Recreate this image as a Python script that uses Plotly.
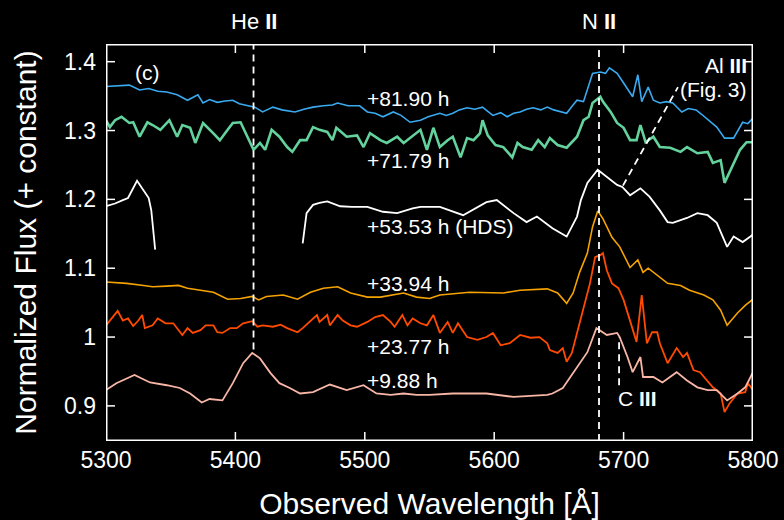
import plotly.graph_objects as go

# ---------------- data ----------------
blue_wl = [5300, 5318, 5326, 5333, 5340, 5347, 5355, 5363, 5371, 5375, 5380, 5386, 5392, 5398, 5403, 5409,
           5415, 5421, 5429, 5436, 5446, 5453, 5460, 5468, 5475, 5479, 5487, 5496, 5502, 5508, 5514, 5522,
           5528, 5535, 5543, 5549, 5553, 5558, 5563, 5568, 5573, 5579, 5585, 5591, 5595, 5599, 5605, 5610,
           5615, 5620, 5625, 5630, 5636, 5641, 5646, 5651, 5656, 5660, 5664, 5669, 5674, 5676, 5682, 5686,
           5689, 5695, 5700, 5704, 5707, 5711, 5714, 5719, 5723, 5728, 5733, 5738, 5745, 5750, 5756, 5760,
           5764, 5768, 5772, 5778, 5785, 5792, 5796, 5800]
blue_fl = [1.364, 1.366, 1.359, 1.361, 1.357, 1.356, 1.352, 1.344, 1.352, 1.340, 1.345, 1.341, 1.343, 1.344, 1.339, 1.337,
           1.334, 1.327, 1.334, 1.330, 1.327, 1.331, 1.334, 1.336, 1.337, 1.340, 1.336, 1.336, 1.327, 1.325, 1.320, 1.327,
           1.322, 1.312, 1.315, 1.320, 1.322, 1.325, 1.322, 1.325, 1.330, 1.333, 1.331, 1.334, 1.328, 1.322, 1.326, 1.320,
           1.325, 1.327, 1.331, 1.333, 1.330, 1.334, 1.330, 1.327, 1.325, 1.335, 1.344, 1.342, 1.369, 1.383, 1.385, 1.383,
           1.391, 1.383, 1.369, 1.358, 1.349, 1.381, 1.342, 1.363, 1.344, 1.340, 1.342, 1.340, 1.327, 1.332, 1.330, 1.324,
           1.318, 1.312, 1.305, 1.289, 1.289, 1.312, 1.310, 1.318]

green_wl = [5300, 5303, 5307, 5312, 5318, 5321, 5326, 5332, 5336, 5342, 5349, 5355, 5359, 5365, 5369, 5375,
            5383, 5388, 5394, 5398, 5404, 5409, 5414, 5419, 5423, 5428, 5434, 5440, 5444, 5450, 5455, 5460,
            5465, 5471, 5475, 5478, 5486, 5494, 5499, 5504, 5512, 5517, 5525, 5530, 5537, 5543, 5548, 5553,
            5558, 5564, 5568, 5574, 5579, 5584, 5589, 5591, 5595, 5601, 5607, 5614, 5618, 5622, 5629, 5634,
            5639, 5643, 5649, 5656, 5664, 5669, 5673, 5676, 5682, 5684, 5690, 5695, 5700, 5705, 5710, 5713,
            5717, 5723, 5728, 5736, 5744, 5749, 5757, 5765, 5769, 5775, 5778, 5784, 5790, 5795, 5800]
green_fl = [1.315, 1.305, 1.315, 1.320, 1.311, 1.312, 1.291, 1.312, 1.308, 1.301, 1.315, 1.291, 1.308, 1.304, 1.282, 1.311,
            1.296, 1.286, 1.301, 1.311, 1.312, 1.291, 1.272, 1.282, 1.272, 1.301, 1.291, 1.276, 1.269, 1.286, 1.286, 1.305,
            1.301, 1.298, 1.286, 1.304, 1.291, 1.293, 1.276, 1.296, 1.286, 1.282, 1.291, 1.282, 1.293, 1.301, 1.272, 1.304,
            1.276, 1.286, 1.291, 1.261, 1.289, 1.286, 1.296, 1.315, 1.293, 1.279, 1.276, 1.261, 1.282, 1.276, 1.272, 1.286,
            1.276, 1.289, 1.279, 1.275, 1.291, 1.315, 1.320, 1.340, 1.349, 1.342, 1.327, 1.311, 1.304, 1.286, 1.286, 1.308,
            1.283, 1.291, 1.276, 1.275, 1.269, 1.276, 1.267, 1.269, 1.253, 1.257, 1.224, 1.247, 1.272, 1.283, 1.283]

white_wl = [5300, 5307, 5313, 5317, 5324, 5328, 5333, 5335, 5338, 5345,
            5452, 5455, 5460, 5465, 5471, 5481, 5490, 5502, 5514, 5525, 5537, 5543, 5558, 5576, 5594, 5602,
            5615, 5625, 5633, 5645, 5656, 5664, 5667, 5672, 5680, 5687, 5695, 5699, 5705, 5713, 5720, 5728,
            5734, 5738, 5749, 5757, 5765, 5772, 5780, 5785, 5792, 5798, 5800]
white_fl = [1.190, 1.194, 1.199, 1.202, 1.227, 1.216, 1.202, 1.184, 1.127, None,
            1.136, 1.180, 1.192, 1.195, 1.197, 1.190, 1.189, 1.189, 1.182, 1.180, 1.187, 1.189, 1.189, 1.177, 1.196, 1.199,
            1.180, 1.167, 1.175, 1.158, 1.146, 1.175, 1.199, 1.224, 1.243, 1.233, 1.221, 1.218, 1.206, 1.216, 1.204, 1.184,
            1.167, 1.166, 1.173, 1.180, 1.177, 1.166, 1.131, 1.146, 1.138, 1.146, 1.149]

orange_wl = [5300, 5316, 5329, 5336, 5347, 5356, 5363, 5373, 5383, 5394, 5404, 5413, 5418, 5424, 5437, 5448,
             5458, 5468, 5479, 5489, 5502, 5512, 5520, 5530, 5540, 5550, 5558, 5581, 5607, 5620, 5641, 5649,
             5656, 5661, 5666, 5672, 5676, 5680, 5684, 5691, 5697, 5705, 5711, 5715, 5719, 5726, 5734, 5744,
             5751, 5762, 5769, 5775, 5780, 5788, 5794, 5800]
orange_fl = [1.080, 1.078, 1.075, 1.073, 1.074, 1.075, 1.071, 1.068, 1.065, 1.055, 1.056, 1.059, 1.054, 1.059, 1.061, 1.055,
             1.065, 1.071, 1.073, 1.064, 1.058, 1.058, 1.061, 1.064, 1.058, 1.056, 1.061, 1.065, 1.064, 1.068, 1.070, 1.064,
             1.049, 1.064, 1.094, 1.122, 1.160, 1.183, 1.172, 1.145, 1.131, 1.101, 1.112, 1.094, 1.100, 1.090, 1.078, 1.075,
             1.068, 1.061, 1.054, 1.039, 1.017, 1.035, 1.046, 1.055]

red_wl = [5300, 5305, 5309, 5313, 5317, 5321, 5325, 5328, 5330, 5336, 5340, 5346, 5352, 5359, 5363, 5367,
          5373, 5377, 5383, 5386, 5390, 5396, 5401, 5406, 5413, 5417, 5421, 5429, 5435, 5440, 5448, 5452,
          5458, 5463, 5465, 5471, 5473, 5479, 5483, 5489, 5494, 5502, 5508, 5514, 5520, 5523, 5529, 5533,
          5537, 5543, 5548, 5553, 5558, 5564, 5568, 5572, 5579, 5587, 5594, 5599, 5605, 5612, 5620, 5628,
          5635, 5641, 5643, 5649, 5653, 5656, 5660, 5664, 5669, 5674, 5678, 5682, 5684, 5687, 5691, 5696,
          5700, 5705, 5710, 5714, 5718, 5722, 5726, 5728, 5734, 5741, 5746, 5749, 5754, 5759, 5765, 5769,
          5775, 5778, 5782, 5788, 5794, 5796, 5800]
red_fl = [1.017, 1.029, 1.038, 1.024, 1.027, 1.016, 1.024, 1.032, 1.013, 1.017, 1.027, 1.020, 1.020, 1.003, 1.013, 1.006,
          1.010, 1.017, 1.017, 1.007, 1.006, 1.013, 1.013, 1.020, 1.023, 1.015, 1.017, 1.015, 1.018, 1.013, 1.007, 1.013,
          1.024, 1.032, 1.022, 1.032, 1.017, 1.032, 1.024, 1.017, 1.015, 1.022, 1.029, 1.032, 1.022, 1.015, 1.032, 1.017,
          1.027, 1.020, 1.017, 1.032, 1.006, 1.022, 1.006, 1.020, 1.000, 0.996, 1.000, 1.006, 0.988, 0.991, 1.003, 0.999,
          1.000, 0.991, 0.981, 0.977, 0.984, 0.964, 0.977, 1.006, 1.038, 1.078, 1.116, 1.119, 1.122, 1.097, 1.078, 1.071,
          1.054, 1.024, 0.993, 1.061, 0.991, 1.007, 1.007, 0.991, 0.962, 0.984, 0.971, 0.977, 0.952, 0.949, 0.935, 0.927,
          0.918, 0.891, 0.904, 0.918, 0.920, 0.933, 0.923]

pink_wl = [5300, 5308, 5322, 5334, 5347, 5357, 5365, 5374, 5380, 5390, 5398, 5406, 5413, 5419, 5427, 5434,
           5442, 5450, 5460, 5473, 5486, 5499, 5509, 5520, 5530, 5540, 5550, 5568, 5594, 5615, 5641, 5645,
           5653, 5661, 5672, 5679, 5687, 5695, 5697, 5703, 5707, 5713, 5715, 5723, 5730, 5741, 5749, 5757,
           5765, 5772, 5780, 5788, 5794, 5800]
pink_fl = [0.923, 0.933, 0.945, 0.934, 0.930, 0.926, 0.918, 0.905, 0.910, 0.908, 0.933, 0.962, 0.977, 0.969, 0.948, 0.933,
           0.926, 0.918, 0.920, 0.931, 0.923, 0.930, 0.918, 0.916, 0.918, 0.916, 0.916, 0.918, 0.918, 0.913, 0.916, 0.918,
           0.926, 0.948, 0.978, 1.013, 1.003, 1.006, 1.000, 0.971, 0.949, 0.971, 0.942, 0.942, 0.934, 0.949, 0.937, 0.927,
           0.923, 0.923, 0.908, 0.918, 0.927, 0.949]

epoch_labels = ["+81.90 h", "+71.79 h", "+53.53 h (HDS)", "+33.94 h", "+23.77 h", "+9.88 h"]
label_flux = [1.347, 1.257, 1.161, 1.078, 0.987, 0.937]
label_wl = 5500

line_ids = ["He <b>II</b>", "N <b>II</b>"]
line_wl = [5414, 5681]

y_ticks = [0.9, 1.0, 1.1, 1.2, 1.3, 1.4]
y_ticktext = ["0.9", "1", "1.1", "1.2", "1.3", "1.4"]
x_ticks = [5300, 5400, 5500, 5600, 5700, 5800]

X_RANGE = [5300, 5800]
Y_RANGE = [0.849, 1.4257]

FONT = "Liberation Sans, Arial, sans-serif"
W, H = 784, 520
M = dict(l=106, r=31, t=44, b=79)
TICK_PX = 9

fig = go.Figure()
series = [
    (blue_wl, blue_fl, "#3aaaf0", 1.6),
    (green_wl, green_fl, "#63d29c", 2.6),
    (white_wl, white_fl, "#ffffff", 1.8),
    (orange_wl, orange_fl, "#f5a300", 1.6),
    (red_wl, red_fl, "#ff4a00", 1.8),
    (pink_wl, pink_fl, "#f7b6a6", 1.8),
]
for wl, fl, col, w in series:
    fig.add_trace(go.Scatter(x=wl, y=fl, mode="lines", line=dict(color=col, width=w),
                             connectgaps=False, showlegend=False, hoverinfo="skip"))

# ---- frame and inward ticks, built from the axis ranges and tick lists ----
plot_w = W - M["l"] - M["r"]
plot_h = H - M["t"] - M["b"]
dx = (X_RANGE[1] - X_RANGE[0]) / plot_w * TICK_PX
dy = (Y_RANGE[1] - Y_RANGE[0]) / plot_h * TICK_PX
x0, x1 = X_RANGE
y0, y1 = Y_RANGE
fig.add_trace(go.Scatter(x=[x0, x1, x1, x0, x0], y=[y0, y0, y1, y1, y0], mode="lines",
                         line=dict(color="white", width=3), cliponaxis=False,
                         showlegend=False, hoverinfo="skip"))
tx, ty = [], []
for xv in x_ticks:
    tx += [xv, xv, None, xv, xv, None]
    ty += [y0, y0 + dy, None, y1, y1 - dy, None]
for yv in y_ticks:
    tx += [x0, x0 + dx, None, x1, x1 - dx, None]
    ty += [yv, yv, None, yv, yv, None]
fig.add_trace(go.Scatter(x=tx, y=ty, mode="lines", line=dict(color="white", width=1.5),
                         connectgaps=False, cliponaxis=False, showlegend=False, hoverinfo="skip"))

dash = dict(color="white", width=1.8, dash="7px,5px")
fig.add_shape(type="line", xref="x", yref="y", x0=line_wl[0], x1=line_wl[0], y0=0.982, y1=Y_RANGE[1], line=dash)
fig.add_shape(type="line", xref="x", yref="y", x0=line_wl[1], x1=line_wl[1], y0=Y_RANGE[0], y1=Y_RANGE[1], line=dash)
fig.add_shape(type="line", xref="x", yref="y", x0=5696.5, x1=5696.5, y0=0.930, y1=1.000, line=dash)
fig.add_shape(type="line", xref="x", yref="y", x0=5699.5, x1=5742, y0=1.220, y1=1.363, line=dash)

ann_font = dict(family=FONT, size=21, color="white")
for t, f in zip(epoch_labels, label_flux):
    fig.add_annotation(x=label_wl, y=f, text=t, showarrow=False, xanchor="left", yanchor="middle",
                       font=ann_font)
for t, w in zip(line_ids, line_wl):
    fig.add_annotation(x=w, y=1, xref="x", yref="paper", text=t, showarrow=False,
                       xanchor="center", yanchor="bottom", yshift=8, font=dict(family=FONT, size=22, color="white"))
fig.add_annotation(x=5332, y=1.384, text="(c)", showarrow=False, font=ann_font)
fig.add_annotation(x=5797, y=1.395, text="Al <b>III</b>", showarrow=False, xanchor="right", yanchor="middle", font=ann_font)
fig.add_annotation(x=5797, y=1.360, text="(Fig. 3)", showarrow=False, xanchor="right", yanchor="middle", font=ann_font)
fig.add_annotation(x=5711, y=0.911, text="C <b>III</b>", showarrow=False, xanchor="center", yanchor="middle", font=ann_font)

axis_common = dict(showline=False, ticks="", showgrid=False, zeroline=False,
                   automargin=False, tickfont=dict(family=FONT, size=23, color="white"))
fig.update_xaxes(range=X_RANGE, tickvals=x_ticks, ticklabelstandoff=3,
                 title=dict(text="Observed Wavelength [Å]", font=dict(family=FONT, size=30, color="white")),
                 **axis_common)
fig.update_yaxes(range=Y_RANGE, tickvals=y_ticks, ticktext=y_ticktext, ticklabelstandoff=9,
                 title=dict(text="Normalized Flux (+ constant)", font=dict(family=FONT, size=30, color="white")),
                 **axis_common)
fig.update_layout(template="none", width=W, height=H, paper_bgcolor="black", plot_bgcolor="black",
                  margin=M, font=dict(family=FONT, color="white"))
fig.write_html("out.html", config={"displayModeBar": False},
               post_script="document.body.style.margin='0';document.body.style.background='black';")
